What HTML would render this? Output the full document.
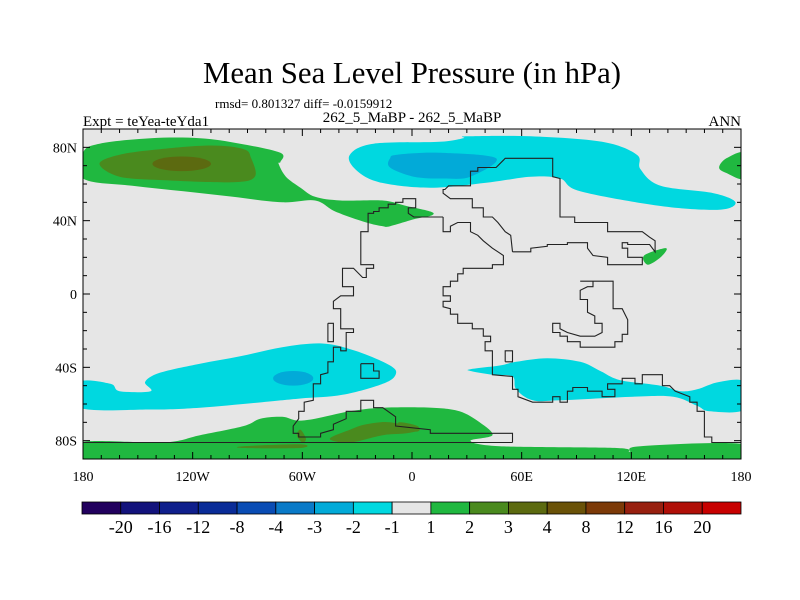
<!DOCTYPE html>
<html><head><meta charset="utf-8"><style>
html,body{margin:0;padding:0;background:#fff}
svg{display:block}
text{font-family:"Liberation Serif",serif;fill:#000}
</style></head><body>
<svg id="chart" width="800" height="600" viewBox="0 0 800 600" xmlns="http://www.w3.org/2000/svg">
<defs><clipPath id="plotclip"><rect x="83" y="129" width="658" height="330"/></clipPath></defs>
<rect width="800" height="600" fill="#fff"/>
<text x="412" y="83" font-size="31" text-anchor="middle" textLength="418" lengthAdjust="spacingAndGlyphs">Mean Sea Level Pressure (in hPa)</text>
<text x="215" y="108" font-size="13">rmsd= 0.801327 diff= -0.0159912</text>
<text x="83" y="126" font-size="15">Expt = teYea-teYda1</text>
<text x="412" y="122" font-size="15" text-anchor="middle">262_5_MaBP - 262_5_MaBP</text>
<text x="741" y="126" font-size="15" text-anchor="end">ANN</text>
<g id="map"></g>
<g id="cbar"></g>
</svg>
<script>
// categories / levels
const levelLabels = ["-20","-16","-12","-8","-4","-3","-2","-1","1","2","3","4","8","12","16","20"];
const levelColors = ["#22005e","#13137c","#0f1f8c","#0a2c98","#0a4cb4","#0a7ac8","#02aad8","#00d8e0","#e6e6e6","#20b840","#4a8a1e","#5c6a10","#6a5208","#7c3a08","#982010","#b01008","#c80000"];
const lonTicks = [-180,-120,-60,0,60,120,180];
const lonTickLabels = ["180","120W","60W","0","60E","120E","180"];
const latTicks = [80,40,0,-40,-80];
const latTickLabels = ["80N","40N","0","40S","80S"];

// contour regions (lon/lat)
const greenNW = [[-180,77],[-171,82],[-143,85],[-116,85],[-94,82],[-72,77],[-72,72],[-73,71],[-69,64],[-61,58],[-53,53],[-39,51],[-16,51],[-3,48],[10,45],[11,43],[2,41],[-12,37],[-16,37],[-25,39],[-42,45],[-53,51],[-71,50],[-98,53],[-125,56],[-153,59],[-180,63]];
const oliveNW = [[-171,71],[-160,76],[-138,79],[-110,81],[-92,79],[-88,74],[-86,64],[-98,61],[-135,62],[-160,64]];
const greenNE = [[182,77],[172,74],[168,69],[172,66],[182,63]];
const greenE = [[127,21],[139,25],[136,20],[129,16]];
const cyanN = [[-34,76],[-21,82],[15,83],[28,85],[30,86],[65,86],[104,83],[123,76],[125,68],[136,59],[165,55],[177,50],[168,46],[136,48],[92,56],[81,63],[65,64],[43,61],[10,58],[-18,61],[-31,68]];
const blueN = [[-12,74],[-8,76],[15,77],[46,74],[32,64],[17,63],[1,64],[-12,69]];
const cyanSW = [[-182,-48],[-165,-49],[-160,-53],[-143,-53],[-146,-48],[-138,-43],[-116,-38],[-94,-34],[-71,-29],[-49,-27],[-31,-31],[-12,-39],[-9,-44],[-16,-49],[-38,-55],[-61,-57],[-82,-59],[-116,-62],[-143,-63],[-182,-62]];
const cyanSE = [[32,-41],[48,-39],[57,-37],[74,-35],[92,-37],[103,-42],[114,-47],[136,-50],[147,-53],[156,-52],[168,-48],[182,-48],[182,-63],[163,-64],[156,-61],[143,-56],[121,-56],[81,-58],[66,-58],[57,-52],[55,-45],[44,-44],[32,-42]];
const greenS = [[-182,-81],[-136,-81],[-116,-77],[-92,-72],[-83,-68],[-71,-67],[-63,-69],[-53,-68],[-34,-64],[-16,-62],[11,-62],[26,-64],[37,-70],[44,-77],[32,-80],[48,-83],[112,-84],[119,-86],[125,-83],[182,-82],[184,-94],[-184,-94]];
const oliveSA = [[-45,-79],[-34,-74],[-25,-71],[-12,-70],[2,-74],[-3,-76],[-16,-77],[-34,-81]];
const oliveSB = [[-61,-74],[-58,-79],[-60,-81],[-63,-77]];
const oliveSC = [[-92,-83],[-61,-82],[-61,-84],[-92,-84]];
const oliveSD = [[-7,-70],[3,-72],[3,-75],[-7,-74]];
const brownNW = [-126,71,16,4];
const blueN2 = [-65,-46,11,4];

// coastlines (lon/lat)
const coastWest = [[17,42],[1,42],[-2,44],[-2,47],[2,47],[2,52],[-5,52],[-5,50],[-9,50],[-9,49],[-13,49],[-13,47],[-18,47],[-18,45],[-21,45],[-21,44],[-24,44],[-24,34],[-28,34],[-28,16],[-21,16],[-21,14],[-25,14],[-25,9],[-27,9],[-32,14],[-38,14],[-38,4],[-32,4],[-32,-1],[-39,-1],[-43,-4],[-43,-8],[-39,-8],[-39,-19],[-32,-19],[-32,-21],[-36,-21],[-36,-31],[-39,-31],[-39,-29],[-43,-29],[-43,-37],[-46,-37],[-46,-43],[-50,-44],[-50,-49],[-54,-49],[-54,-58],[-59,-59],[-59,-64],[-62,-64],[-62,-68],[-65,-72],[-65,-76],[-62,-76],[-62,-78],[-50,-78],[-50,-76],[-43,-74],[-43,-71],[-36,-68],[-36,-64],[-28,-64],[-28,-58],[-21,-58],[-21,-62],[-16,-62],[-9,-67],[-9,-72],[10,-74],[10,-76],[55,-76],[55,-81]];
const coastAntarctic = [[-180,-81],[55,-81]];
const coastEast = [[17,42],[17,34],[21,34],[21,37],[25,39],[32,39],[32,34],[36,32],[39,29],[44,25],[47,23],[50,21],[50,16],[44,16],[44,14],[28,14],[28,11],[25,11],[25,7],[21,7],[21,4],[17,4],[17,-1],[21,-1],[21,-4],[17,-4],[17,-7],[21,-8],[21,-11],[25,-11],[25,-16],[33,-16],[33,-19],[39,-19],[39,-23],[43,-23],[43,-26],[40,-26],[40,-31],[44,-31],[44,-44],[55,-45],[55,-52],[58,-52],[58,-56],[66,-59],[77,-59],[77,-56],[81,-56],[81,-59],[85,-59],[85,-53],[88,-53],[88,-51],[96,-51],[96,-53],[104,-53],[104,-56],[111,-56],[111,-52],[107,-52],[107,-49],[115,-49],[115,-46],[122,-46],[122,-49],[126,-49],[126,-44],[137,-44],[137,-50],[141,-50],[144,-53],[152,-56],[152,-59],[156,-59],[156,-64],[160,-64],[160,-78],[164,-78],[164,-81],[180,-81]];
const coastBoxA = [[51,-37],[51,-31],[55,-31],[55,-37],[51,-37]];
const coastTethys = [[55,23],[65,23],[65,25],[74,26],[74,27],[85,27],[85,28],[96,28],[96,25],[99,21],[107,20],[107,16],[126,16],[126,20],[118,20],[118,25],[115,25],[115,28],[118,28],[118,27],[130,27],[133,23],[133,29],[130,31],[126,34],[107,34],[107,39],[89,39],[89,42],[81,42],[81,63],[77,64],[77,74],[51,74],[50,73],[46,69],[36,69],[36,67],[32,67],[32,59],[20,59],[18,57],[17,57],[17,55],[21,52],[33,52],[33,47],[39,47],[39,42],[44,42],[47,39],[51,34],[54,32],[55,23]];
const coastAus = [[92,7],[110,7],[110,-8],[115,-8],[118,-14],[118,-22],[115,-22],[115,-26],[111,-26],[111,-29],[92,-29],[92,-26],[85,-26],[85,-23],[81,-23],[81,-21],[77,-21],[77,-16],[81,-16],[81,-19],[85,-21],[92,-23],[100,-23],[104,-21],[104,-16],[100,-16],[100,-12],[96,-10],[96,-3],[92,-3],[92,2],[96,4],[99,4],[99,7],[92,7]];
const coastBoxB = [[-28,-38],[-21,-38],[-21,-42],[-18,-42],[-18,-46],[-28,-46],[-28,-38]];
const coastBoxC = [[-46,-16],[-43,-16],[-43,-26],[-46,-26],[-46,-16]];

const X0=83, X1=741, Y0=129, Y1=459;
function xOf(lon){return X0+(lon+180)/360*(X1-X0);}
function yOf(lat){return Y0+(90-lat)/180*(Y1-Y0);}
const NS="http://www.w3.org/2000/svg";
const map=document.getElementById('map');
function mk(tag,attrs,parent){const e=document.createElementNS(NS,tag);for(const k in attrs)e.setAttribute(k,attrs[k]);(parent||map).appendChild(e);return e;}
function pts(a){return a.map(p=>xOf(p[0]).toFixed(1)+','+yOf(p[1]).toFixed(1)).join(' ');}
function smooth(a){
  const P=a.map(p=>[xOf(p[0]),yOf(p[1])]), n=P.length;
  let d='M'+P[0][0].toFixed(1)+','+P[0][1].toFixed(1);
  for(let i=0;i<n;i++){
    const p0=P[(i-1+n)%n],p1=P[i],p2=P[(i+1)%n],p3=P[(i+2)%n];
    const c1=[p1[0]+(p2[0]-p0[0])/6,p1[1]+(p2[1]-p0[1])/6];
    const c2=[p2[0]-(p3[0]-p1[0])/6,p2[1]-(p3[1]-p1[1])/6];
    d+='C'+c1[0].toFixed(1)+','+c1[1].toFixed(1)+' '+c2[0].toFixed(1)+','+c2[1].toFixed(1)+' '+p2[0].toFixed(1)+','+p2[1].toFixed(1);
  }
  return d+'Z';
}

const bg=mk('rect',{x:X0,y:Y0,width:X1-X0,height:Y1-Y0,fill:levelColors[8]});


const fills=mk('g',{"clip-path":"url(#plotclip)"});



const regions=[[greenNW,9,'contour-green-north-pacific'],[oliveNW,10,'contour-olive-north-pacific'],[greenNE,9,'contour-green-northeast'],[greenE,9,'contour-green-east'],[cyanN,7,'contour-cyan-north'],[blueN,6,'contour-blue-north'],[cyanSW,7,'contour-cyan-south-west'],[cyanSE,7,'contour-cyan-south-east'],[greenS,9,'contour-green-south'],[oliveSA,10,'contour-olive-south-a'],[oliveSB,10,'contour-olive-south-b'],[oliveSC,10,'contour-olive-south-c'],[oliveSD,10,'contour-olive-south-d']];
regions.forEach(r=>{
  const p=mk('path',{d:smooth(r[0]),fill:levelColors[r[1]]},fills);
  
  
});
function blob(c,col,name){
  const e=mk('ellipse',{cx:xOf(c[0]),cy:yOf(c[1]),rx:c[2]/360*(X1-X0),ry:c[3]/180*(Y1-Y0),fill:col},fills);
  
  
}
blob(brownNW,levelColors[11],'contour-brown-north-pacific');
blob(blueN2,levelColors[6],'contour-blue-south');

const coasts=[[coastWest,'coastline-west'],[coastAntarctic,'coastline-antarctic'],[coastEast,'coastline-east'],[coastBoxA,'coastline-island-a'],[coastTethys,'coastline-tethys'],[coastAus,'coastline-loop'],[coastBoxB,'coastline-island-b'],[coastBoxC,'coastline-island-c']];
coasts.forEach(c=>{
  const l=mk('polyline',{points:pts(c[0]),fill:'none',stroke:'#222',"stroke-width":1.1});
  
  
});

const frame=mk('rect',{x:X0,y:Y0,width:X1-X0,height:Y1-Y0,fill:'none',stroke:'#000',"stroke-width":1});



for(let lon=-180;lon<=180;lon+=10){
  const major=lon%60===0, L=major?7:4, x=xOf(lon);
  const t1=mk('line',{x1:x,y1:Y1,x2:x,y2:Y1-L,stroke:'#000'});
  
  
  const t2=mk('line',{x1:x,y1:Y0,x2:x,y2:Y0+L,stroke:'#000'});
  
  
}
for(let lat=-80;lat<=90;lat+=10){
  const major=lat%40===0, L=major?7:4, y=yOf(lat);
  const t1=mk('line',{x1:X0,y1:y,x2:X0+L,y2:y,stroke:'#000'});
  
  
  const t2=mk('line',{x1:X1,y1:y,x2:X1-L,y2:y,stroke:'#000'});
  
  
}
lonTicks.forEach((lon,i)=>{
  const t=mk('text',{x:xOf(lon),y:481,"font-size":14,"text-anchor":"middle"});
  t.textContent=lonTickLabels[i];
  
  
});
latTicks.forEach((lat,i)=>{
  const t=mk('text',{x:77,y:yOf(lat)+5,"font-size":14,"text-anchor":"end"});
  t.textContent=latTickLabels[i];
  
  
});

const cb=document.getElementById('cbar');
const CB0=82, CB1=741, CBY=502, CBH=12, w=(CB1-CB0)/levelColors.length;
levelColors.forEach((c,i)=>{
  const r=mk('rect',{x:CB0+i*w,y:CBY,width:w,height:CBH,fill:c,stroke:'#000',"stroke-width":0.8},cb);
  
  
});
levelLabels.forEach((s,i)=>{
  const t=mk('text',{x:CB0+(i+1)*w,y:533,"font-size":18,"text-anchor":"middle"},cb);
  t.textContent=s;
  
  
});
</script>
</body></html>
